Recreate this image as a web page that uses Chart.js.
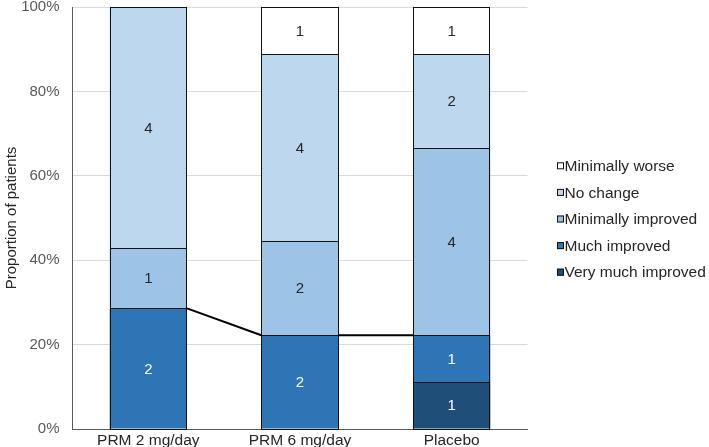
<!DOCTYPE html>
<html><head><meta charset="utf-8">
<script src="https://cdn.jsdelivr.net/npm/chart.js@4/dist/chart.umd.min.js"></script>
<style>html,body{margin:0;padding:0;background:#fff}#wrap{width:709px;height:447px}</style>
</head><body><div id="wrap"><canvas id="c" width="709" height="447"></canvas></div>
<script>
const categories = ["PRM 2 mg/day", "PRM 6 mg/day", "Placebo"];
const veryMuchImproved = [0, 0, 1];
const muchImproved = [2, 2, 1];
const minimallyImproved = [1, 2, 4];
const noChange = [4, 4, 2];
const minimallyWorse = [0, 1, 1];
const yTicks = [0, 20, 40, 60, 80, 100];

const seriesNames = ["Very much improved", "Much improved", "Minimally improved", "No change", "Minimally worse"];
const seriesCounts = [veryMuchImproved, muchImproved, minimallyImproved, noChange, minimallyWorse];
const colors = ["#1F4E79", "#2E75B6", "#9DC3E6", "#BDD7EE", "#FFFFFF"];
const labelColors = ["#FFFFFF", "#FFFFFF", "#262626", "#262626", "#262626"];
const totals = categories.map((_, i) => seriesCounts.reduce((s, a) => s + a[i], 0));

const datasets = seriesNames.map((name, k) => ({
  label: name,
  data: seriesCounts[k].map((v, i) => v / totals[i] * 100),
  counts: seriesCounts[k],
  backgroundColor: colors[k],
  borderWidth: 0,
  categoryPercentage: 1,
  barPercentage: 0.51
}));

const FONT = "'Liberation Sans', Arial, sans-serif";
const FS = 15;

const labelPlugin = {
  id: "segLabels",
  afterDatasetsDraw(chart) {
    const ctx = chart.ctx;
    ctx.save();
    // crisp segment outlines from the bar elements
    ctx.strokeStyle = "#111";
    ctx.lineWidth = 1;
    chart.data.datasets.forEach((ds, k) => {
      chart.getDatasetMeta(k).data.forEach((el, i) => {
        if (!ds.counts[i]) return;
        const l = Math.round(el.x - el.width / 2), r = Math.round(el.x + el.width / 2);
        const t = Math.round(el.y), b = Math.round(el.base);
        ctx.strokeRect(l + 0.5, t + 0.5, r - l - 1, b - t);
      });
    });
    // series line connecting tops of "Much improved"
    const meta = chart.getDatasetMeta(1);
    ctx.strokeStyle = "#000";
    ctx.lineWidth = 2;
    ctx.beginPath();
    for (let i = 0; i < meta.data.length - 1; i++) {
      const a = meta.data[i], b = meta.data[i + 1];
      ctx.moveTo(a.x + a.width / 2, a.y);
      ctx.lineTo(b.x - b.width / 2, b.y);
    }
    ctx.stroke();
    ctx.font = FS + "px " + FONT;
    ctx.textAlign = "center";
    ctx.textBaseline = "middle";
    chart.data.datasets.forEach((ds, k) => {
      const m = chart.getDatasetMeta(k);
      m.data.forEach((el, i) => {
        const c = ds.counts[i];
        if (!c) return;
        ctx.fillStyle = labelColors[k];
        ctx.fillText(String(c), el.x, (el.y + el.base) / 2 + 1);
      });
    });
    // legend (reversed order, drawn at right)
    const n = chart.data.datasets.length;
    const step = 26.6;
    const cy = (chart.chartArea.top + chart.chartArea.bottom) / 2 + 1;
    const lx = chart.chartArea.right + 29.5;
    ctx.textAlign = "left";
    ctx.font = "15.5px " + FONT;
    for (let j = 0; j < n; j++) {
      const k = n - 1 - j;
      const ds = chart.data.datasets[k];
      const y = cy + (j - (n - 1) / 2) * step;
      ctx.fillStyle = ds.backgroundColor;
      ctx.fillRect(lx, y - 3.5, 7, 7);
      ctx.strokeStyle = "#111";
      ctx.lineWidth = 1;
      ctx.strokeRect(lx + 0.5, y - 3.5 + 0.5, 6, 6);
      ctx.fillStyle = "#262626";
      ctx.fillText(ds.label, lx + 7.5, y + 1);
    }
    ctx.restore();
  }
};

new Chart(document.getElementById("c"), {
  type: "bar",
  data: { labels: categories, datasets },
  options: {
    responsive: false,
    animation: false,
    layout: { padding: { top: 0, right: 181.5, bottom: 0, left: 0 } },
    plugins: {
      tooltip: { enabled: false },
      legend: { display: false }
    },
    scales: {
      x: {
        stacked: true,
        grid: { display: false, drawTicks: false },
        border: { display: true, color: "#595959", width: 1 },
        ticks: { color: "#262626", font: { family: FONT, size: 15.5, lineHeight: 1 }, padding: 4 },
        afterFit(scale) { scale.height = 18; scale.paddingLeft = 0; scale.paddingRight = 0; }
      },
      y: {
        stacked: true,
        min: 0, max: 100,
        afterBuildTicks(scale) { scale.ticks = yTicks.map(v => ({ value: v })); },
        grid: { color: "#d9d9d9", drawTicks: false },
        border: { display: true, color: "#595959", width: 1 },
        ticks: { color: "#595959", font: { family: FONT, size: FS, lineHeight: 1 }, padding: 13, callback: v => v + "%" },
        title: { display: true, text: "Proportion of patients", color: "#262626", font: { family: FONT, size: FS, lineHeight: 1 }, padding: { top: 4.5, bottom: 3 } },
        afterFit(scale) { scale.width = 72.5; scale.paddingTop = 7; scale.paddingBottom = 0; }
      }
    }
  },
  plugins: [labelPlugin]
});
</script></body></html>
